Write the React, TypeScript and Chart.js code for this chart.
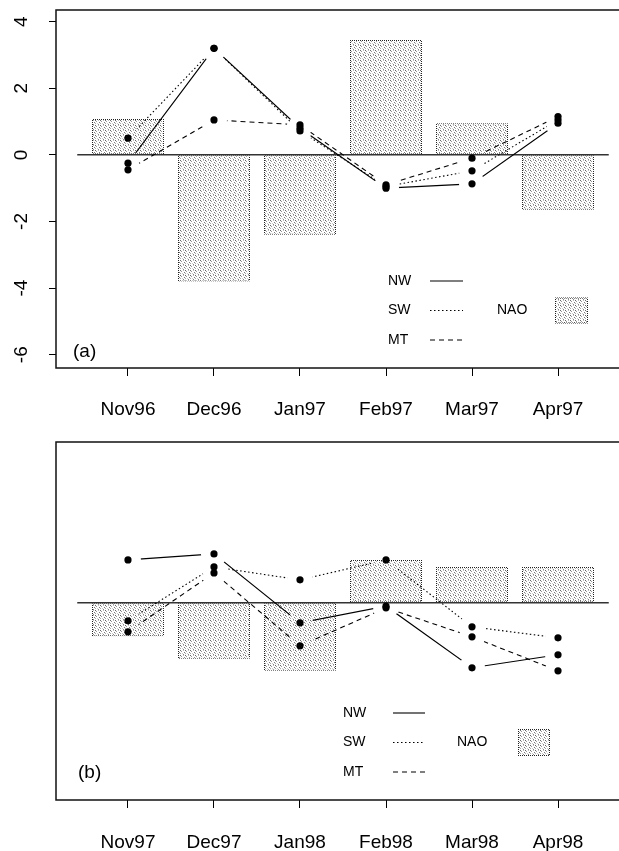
import React, { useEffect, useRef } from "react";
import { Chart, registerables } from "chart.js";

Chart.register(...registerables);

// ---------- data ----------
const MONTHS_A = ["Nov96", "Dec96", "Jan97", "Feb97", "Mar97", "Apr97"];
const NAO_A = [1.08, -3.8, -2.4, 3.45, 0.95, -1.65];
const NW_A = [-0.25, 3.2, 0.8, -1.0, -0.87, 0.95];
const SW_A = [0.5, 3.2, 0.72, -0.95, -0.48, 1.05];
const MT_A = [-0.45, 1.05, 0.9, -0.9, -0.1, 1.15];

const MONTHS_B = ["Nov97", "Dec97", "Jan98", "Feb98", "Mar98", "Apr98"];
const NAO_B = [-1.0, -1.68, -2.04, 1.29, 1.08, 1.08];
const NW_B = [1.29, 1.47, -0.6, -0.1, -1.95, -1.56];
const SW_B = [-0.54, 1.08, 0.69, 1.29, -0.72, -1.05];
const MT_B = [-0.87, 0.9, -1.29, -0.15, -1.02, -2.04];

const Y_TICKS = [-6, -4, -2, 0, 2, 4];
const Y_RANGE_A = [-6.4, 4.35];
const Y_RANGE_B = [-5.92, 4.83];
const X_RANGE = [-0.837, 5.837];
const ZERO_EXT = 0.59;

const FONT = "'Liberation Sans', Arial, Helvetica, sans-serif";

const SERIES_STYLE = {
  NW: { dash: [] as number[] },
  SW: { dash: [1.5, 2.5] },
  MT: { dash: [5, 4] },
};

type PanelCfg = {
  top: number;
  height: number;
  months: string[];
  nao: number[];
  nw: number[];
  sw: number[];
  mt: number[];
  yRange: number[];
  showY: boolean;
  padTop: number;
  xAxisHeight: number;
  xTickPad: number;
  panelLabel: string;
  labelX: number;
  labelY: number;
  legTextX: number;
  legLineX0: number;
  legLineX1: number;
  legY0: number;
  legDy: number;
  naoX: number;
  patchX: number;
  patchW: number;
  patchH: number;
};

const PANEL_A: PanelCfg = {
  top: 0,
  height: 425,
  months: MONTHS_A,
  nao: NAO_A,
  nw: NW_A,
  sw: SW_A,
  mt: MT_A,
  yRange: Y_RANGE_A,
  showY: true,
  padTop: 10,
  xAxisHeight: 57,
  xTickPad: 22,
  panelLabel: "(a)",
  labelX: 73,
  labelY: 352,
  legTextX: 388,
  legLineX0: 430,
  legLineX1: 463,
  legY0: 281,
  legDy: 29.5,
  naoX: 497,
  patchX: 555,
  patchW: 33,
  patchH: 26,
};

const PANEL_B: PanelCfg = {
  top: 425,
  height: 426,
  months: MONTHS_B,
  nao: NAO_B,
  nw: NW_B,
  sw: SW_B,
  mt: MT_B,
  yRange: Y_RANGE_B,
  showY: false,
  padTop: 17,
  xAxisHeight: 51,
  xTickPad: 23,
  panelLabel: "(b)",
  labelX: 78,
  labelY: 348,
  legTextX: 343,
  legLineX0: 393,
  legLineX1: 425,
  legY0: 288,
  legDy: 29.5,
  naoX: 457,
  patchX: 518,
  patchW: 32,
  patchH: 27,
};

function makeFillPattern(ctx: CanvasRenderingContext2D) {
  const c = document.createElement("canvas");
  c.width = 5;
  c.height = 5;
  const g = c.getContext("2d")!;
  g.fillStyle = "#fff";
  g.fillRect(0, 0, 5, 5);
  const dots: [number, number, string][] = [
    [0, 0, "#666"],
    [3, 0, "#bbb"],
    [1, 1, "#999"],
    [4, 2, "#777"],
    [0, 3, "#aaa"],
    [2, 3, "#ccc"],
    [3, 4, "#888"],
  ];
  dots.forEach(([x, y, col]) => {
    g.fillStyle = col;
    g.fillRect(x, y, 1, 1);
  });
  return ctx.createPattern(c, "repeat")!;
}

function makeBorderPattern(ctx: CanvasRenderingContext2D) {
  const c = document.createElement("canvas");
  c.width = 2;
  c.height = 2;
  const g = c.getContext("2d")!;
  g.fillStyle = "#222";
  g.fillRect(0, 0, 1, 1);
  g.fillRect(1, 1, 1, 1);
  return ctx.createPattern(c, "repeat")!;
}

function Panel({ cfg }: { cfg: PanelCfg }) {
  const ref = useRef<HTMLCanvasElement>(null);

  useEffect(() => {
    const canvas = ref.current!;
    const ctx = canvas.getContext("2d")!;
    const fill = makeFillPattern(ctx);
    const border = makeBorderPattern(ctx);
    const xy = (arr: number[]) => arr.map((v, i) => ({ x: i, y: v }));

    const series = [
      { label: "NW", data: cfg.nw, dash: SERIES_STYLE.NW.dash },
      { label: "SW", data: cfg.sw, dash: SERIES_STYLE.SW.dash },
      { label: "MT", data: cfg.mt, dash: SERIES_STYLE.MT.dash },
    ];

    const datasets: any[] = [
      {
        type: "bar",
        label: "NAO",
        data: xy(cfg.nao),
        backgroundColor: fill,
        borderColor: border,
        borderWidth: 1,
        borderSkipped: false,
        barPercentage: 0.837,
        categoryPercentage: 1,
        order: 10,
        isNao: true,
      },
      ...series.map((s) => ({
        type: "line",
        label: s.label,
        data: xy(s.data),
        borderColor: "#000",
        borderWidth: 1.1,
        borderDash: s.dash,
        pointRadius: 0,
        tension: 0,
        fill: false,
        order: 5,
        gap: 13,
        isSeries: true,
      })),
      ...series.map((s) => ({
        type: "line",
        label: s.label + " pts",
        data: xy(s.data),
        showLine: false,
        pointRadius: 3.6,
        pointBackgroundColor: "#000",
        pointBorderColor: "#000",
        pointBorderWidth: 0,
        order: 1,
      })),
    ];

    const boxPlugin = {
      id: "box",
      beforeDatasetsDraw(chart: any) {
        const { left, top, right, bottom } = chart.chartArea;
        const c = chart.ctx;
        c.save();
        c.strokeStyle = "#111";
        c.lineWidth = 1.5;
        c.strokeRect(left, top, right - left, bottom - top);
        c.restore();
      },
    };

    const gapPlugin = {
      id: "gaps",
      beforeDatasetDraw(chart: any, args: any) {
        const ds = chart.data.datasets[args.index];
        if (!ds.gap) return;
        const c = chart.ctx;
        c.save();
        c.beginPath();
        c.rect(0, 0, chart.width, chart.height);
        args.meta.data.forEach((el: any) => {
          c.moveTo(el.x + ds.gap, el.y);
          c.arc(el.x, el.y, ds.gap, 0, Math.PI * 2);
        });
        c.clip("evenodd");
      },
      afterDatasetDraw(chart: any, args: any) {
        const ds = chart.data.datasets[args.index];
        if (ds.gap) chart.ctx.restore();
        if (ds.isNao) {
          const xs = chart.scales.x;
          const ys = chart.scales.y;
          const c = chart.ctx;
          const y0 = ys.getPixelForValue(0);
          c.save();
          c.strokeStyle = "#333";
          c.lineWidth = 1.5;
          c.beginPath();
          c.moveTo(xs.getPixelForValue(-ZERO_EXT), y0);
          c.lineTo(xs.getPixelForValue(ds.data.length - 1 + ZERO_EXT), y0);
          c.stroke();
          c.restore();
        }
      },
    };

    const legendPlugin = {
      id: "customLegend",
      afterDraw(chart: any) {
        const c = chart.ctx;
        c.save();
        c.fillStyle = "#000";
        c.textBaseline = "middle";
        c.textAlign = "left";
        c.font = `19px ${FONT}`;
        c.fillText(cfg.panelLabel, cfg.labelX, cfg.labelY);
        c.font = `14px ${FONT}`;
        const lines = chart.data.datasets.filter((d: any) => d.isSeries);
        lines.forEach((d: any, i: number) => {
          const y = cfg.legY0 + i * cfg.legDy;
          c.fillStyle = "#000";
          c.fillText(d.label, cfg.legTextX, y);
          c.strokeStyle = "#000";
          c.lineWidth = 1.1;
          c.setLineDash(d.borderDash || []);
          c.beginPath();
          c.moveTo(cfg.legLineX0, y);
          c.lineTo(cfg.legLineX1, y);
          c.stroke();
        });
        c.setLineDash([]);
        const nao = chart.data.datasets.find((d: any) => d.isNao);
        const ny = cfg.legY0 + cfg.legDy;
        c.fillStyle = "#000";
        c.fillText(nao.label, cfg.naoX, ny);
        const px = cfg.patchX;
        const py = ny - cfg.patchH / 2;
        c.fillStyle = border;
        c.fillRect(px, py, cfg.patchW, cfg.patchH);
        c.fillStyle = fill;
        c.fillRect(px + 1, py + 1, cfg.patchW - 2, cfg.patchH - 2);
        c.restore();
      },
    };

    const chart = new Chart(canvas, {
      type: "bar",
      data: { datasets },
      options: {
        responsive: false,
        animation: false,
        layout: { padding: { top: cfg.padTop, right: 10, left: 0, bottom: 0 } },
        plugins: {
          legend: { display: false },
          tooltip: { enabled: false },
        },
        scales: {
          x: {
            type: "linear",
            offset: false,
            min: X_RANGE[0],
            max: X_RANGE[1],
            afterBuildTicks: (s: any) => {
              s.ticks = cfg.months.map((_, i) => ({ value: i }));
            },
            afterFit: (s: any) => {
              s.height = cfg.xAxisHeight;
              s.paddingLeft = 0;
              s.paddingRight = 0;
            },
            ticks: {
              callback: (_v: any, i: number) => cfg.months[i],
              font: { family: FONT, size: 19 },
              color: "#000",
              padding: cfg.xTickPad,
              maxRotation: 0,
              minRotation: 0,
              autoSkip: false,
            },
            grid: {
              offset: false,
              drawOnChartArea: false,
              drawTicks: true,
              tickLength: 8,
              color: "#000",
              tickWidth: 1,
            },
            border: { display: false },
          },
          y: {
            type: "linear",
            min: cfg.yRange[0],
            max: cfg.yRange[1],
            afterBuildTicks: (s: any) => {
              s.ticks = Y_TICKS.map((v) => ({ value: v }));
            },
            afterFit: (s: any) => {
              s.width = 56;
              s.paddingTop = 0;
              s.paddingBottom = 0;
            },
            ticks: {
              display: cfg.showY,
              minRotation: 90,
              maxRotation: 90,
              crossAlign: "center",
              padding: 19,
              font: { family: FONT, size: 19 },
              color: "#000",
            },
            grid: {
              drawOnChartArea: false,
              drawTicks: cfg.showY,
              tickLength: 7,
              color: "#000",
              tickWidth: 1,
            },
            border: { display: false },
          },
        },
      } as any,
      plugins: [boxPlugin, gapPlugin, legendPlugin],
    } as any);

    return () => chart.destroy();
  }, [cfg]);

  return (
    <div
      style={{
        position: "absolute",
        left: 0,
        top: cfg.top,
        width: 640,
        height: cfg.height,
      }}
    >
      <canvas
        ref={ref}
        width={640}
        height={cfg.height}
        style={{ display: "block", width: 640, height: cfg.height }}
      />
    </div>
  );
}

export default function App() {
  return (
    <div
      style={{
        position: "fixed",
        left: 0,
        top: 0,
        width: 619,
        height: 851,
        overflow: "hidden",
        background: "#fff",
      }}
    >
      <Panel cfg={PANEL_A} />
      <Panel cfg={PANEL_B} />
    </div>
  );
}
